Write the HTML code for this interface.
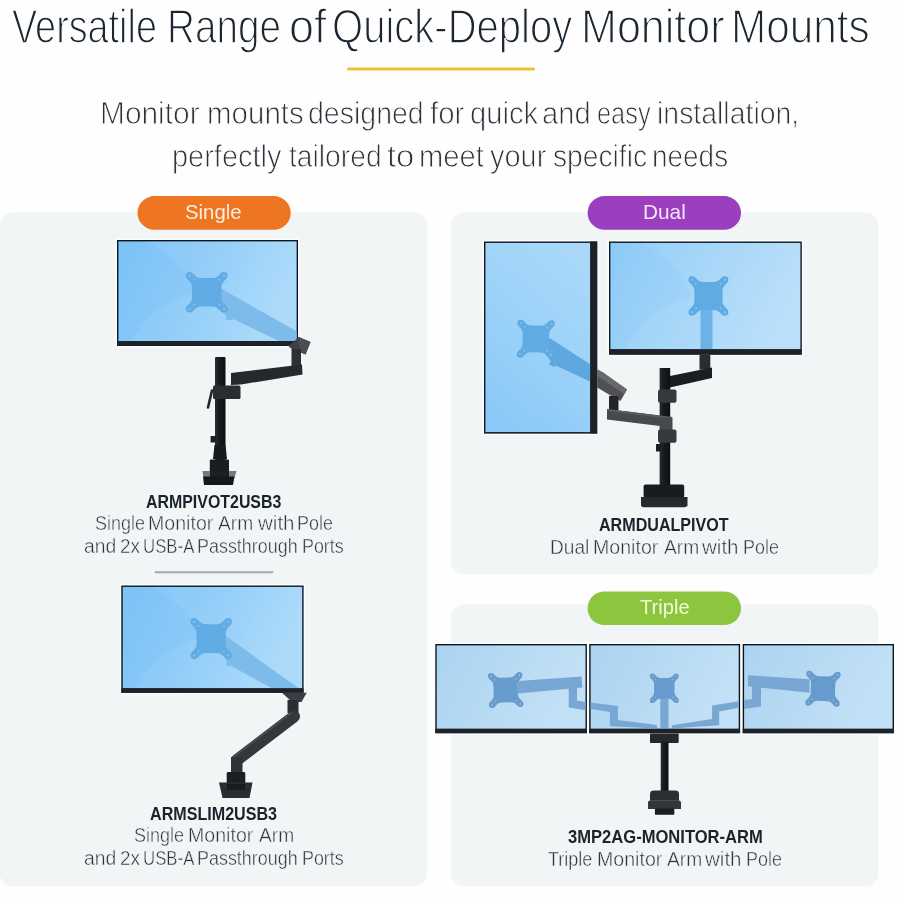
<!DOCTYPE html>
<html lang="en">
<head>
<meta charset="utf-8">
<title>Versatile Range of Quick-Deploy Monitor Mounts</title>
<style>
html,body{margin:0;padding:0;}
body{width:900px;height:900px;position:relative;overflow:hidden;background:#fefefe;font-family:"Liberation Sans",sans-serif;color:#1d2a36;}
.t{will-change:transform;position:absolute;left:0;width:900px;height:1em;white-space:nowrap;line-height:1;margin:0;font-weight:normal;display:block;}
.w{position:absolute;top:0;left:0;transform-origin:0 0;white-space:nowrap;}
.title{color:#1c2630;}
.sub{color:#2a323a;}
.name{font-weight:bold;color:#1a232c;}
.desc{color:#2c343c;}
.pl{color:#fff;}
#gfx{position:absolute;left:0;top:0;}
</style>
</head>
<body>
<svg id="gfx" width="900" height="900" viewBox="0 0 900 900">
<defs>
<linearGradient id="gS" x1="0" y1="0" x2="1" y2="0.25"><stop offset="0" stop-color="#7bc2f7"/><stop offset="0.5" stop-color="#8bcaf8"/><stop offset="1" stop-color="#a6d8fa"/></linearGradient>
<linearGradient id="gD1" x1="0.2" y1="1" x2="0.7" y2="0"><stop offset="0" stop-color="#8ac9f7"/><stop offset="0.55" stop-color="#9dd2f8"/><stop offset="1" stop-color="#a9d8f9"/></linearGradient>
<linearGradient id="gD2" x1="0" y1="0" x2="1" y2="0.3"><stop offset="0" stop-color="#8dcaf7"/><stop offset="0.5" stop-color="#a0d3f8"/><stop offset="1" stop-color="#b4ddfa"/></linearGradient>
<linearGradient id="gT" x1="0" y1="0" x2="1" y2="0.3"><stop offset="0" stop-color="#abd3f1"/><stop offset="0.5" stop-color="#b7daf3"/><stop offset="1" stop-color="#c3e1f6"/></linearGradient>
<linearGradient id="gPole" x1="0" y1="0" x2="1" y2="0"><stop offset="0" stop-color="#2a2c30"/><stop offset="0.35" stop-color="#1a1b1e"/><stop offset="1" stop-color="#0e0f11"/></linearGradient>
</defs>
<g id="panels" fill="#f1f5f6">
<rect x="-0.3" y="212.6" width="427.2" height="673.6" rx="13"/>
<rect x="451" y="212.6" width="427.3" height="361.6" rx="13"/>
<rect x="451" y="604.6" width="427.3" height="281.6" rx="13"/>
</g>
<rect x="347" y="67.4" width="188" height="3.1" rx="1.5" fill="#f1c03a"/>
<rect x="154.6" y="571.2" width="118.8" height="2" rx="1" fill="#9eabb0"/>
<rect x="137.5" y="196.1" width="153.2" height="33.7" rx="16.85" fill="#ee7623"/>
<rect x="587.6" y="196.1" width="153.4" height="33.7" rx="16.85" fill="#9b3fbf"/>
<rect x="587.6" y="591.4" width="153.4" height="33.7" rx="16.85" fill="#8cc63f"/>
<g id="m1">
<rect x="115.5" y="238.5" width="184.0" height="109.0" fill="#ffffff" opacity="0.8"/>
<rect x="117.0" y="240.0" width="181.0" height="106.0" fill="#0b1620"/>
<clipPath id="m1c"><rect x="118.4" y="241.4" width="178.2" height="99.6"/></clipPath>
<rect x="118.4" y="241.4" width="178.2" height="99.6" fill="url(#gS)"/>
<g clip-path="url(#m1c)">
<path d="M146.0 240 Q193.0 268.3 193.0 292.5 Q153.2 302.6 131.5 341 L298 341 L298 240 Z" fill="#ffffff" opacity="0.07"/>
<polygon points="218,288 222,289 300,333.3 300,342 281,342 228,316.5 222,312" fill="#7dbbea"/><rect x="226" y="314" width="6.5" height="6" fill="#7dbbea"/><g transform="translate(206.7 292.3) rotate(0) scale(0.955 0.923)"><path d="M-14.5,-20.5 L-11.5,-17.5 Q-9.5,-15.5 -6,-15.5 L6,-15.5 Q9.5,-15.5 11.5,-17.5 L14.5,-20.5 Q16,-22 18.2,-22 Q22,-22 22,-18.2 Q22,-16 20.5,-14.5 L17.5,-11.5 Q15.5,-9.5 15.5,-6 L15.5,6 Q15.5,9.5 17.5,11.5 L20.5,14.5 Q22,16 22,18.2 Q22,22 18.2,22 Q16,22 14.5,20.5 L11.5,17.5 Q9.5,15.5 6,15.5 L-6,15.5 Q-9.5,15.5 -11.5,17.5 L-14.5,20.5 Q-16,22 -18.2,22 Q-22,22 -22,18.2 Q-22,16 -20.5,14.5 L-17.5,11.5 Q-15.5,9.5 -15.5,6 L-15.5,-6 Q-15.5,-9.5 -17.5,-11.5 L-20.5,-14.5 Q-22,-16 -22,-18.2 Q-22,-22 -18.2,-22 Q-16,-22 -14.5,-20.5 Z" fill="#62ace5"/><g fill="#86c2f0"><circle cx="-18" cy="-18" r="1.2"/><circle cx="18" cy="-18" r="1.2"/><circle cx="-18" cy="18" r="1.2"/><circle cx="18" cy="18" r="1.2"/><circle cx="-13.5" cy="-13.5" r="1.1"/><circle cx="13.5" cy="-13.5" r="1.1"/><circle cx="-13.5" cy="13.5" r="1.1"/><circle cx="13.5" cy="13.5" r="1.1"/></g></g>
</g>
<rect x="117.0" y="341.0" width="181.0" height="5.0" fill="#1d2228"/>
</g>
<g id="a1">
<polygon points="288.5,346 299,337 310.5,342 305.5,354.5 291,348.5" fill="#3d4045"/>
<polygon points="298,337 310.5,342 305.5,354.5 300,352" fill="#4a4d52"/>
<rect x="291.5" y="349" width="9.5" height="17" fill="#2d2f33"/>
<polygon points="231,373 302,364.5 302.5,374.5 241,384.5 231,385" fill="#26282c"/>
<rect x="215" y="357" width="10.5" height="118" rx="1" fill="url(#gPole)"/>
<rect x="213" y="385.5" width="27.5" height="13.5" rx="1.5" fill="#2b2d31"/>
<path d="M212 390.5 L208 407.5" stroke="#25272b" stroke-width="2.6" stroke-linecap="round"/>
<rect x="210.6" y="436" width="5" height="6.5" fill="#1d1e21"/>
<polygon points="214.5,445 225.5,445 227,459 213,459" fill="#18191c"/>
<rect x="209.8" y="459.5" width="19.2" height="13" rx="1" fill="#1b1c1f"/>
<polygon points="202.5,471 236.5,471 234.5,478 203.5,478" fill="#77787a"/>
<polygon points="210,471 229,471 229,478 210,478" fill="#1e1f22"/>
<polygon points="203,476.5 234.5,476.5 233,485 204,485" fill="#17181b"/>
</g>
<g id="m2">
<rect x="119.8" y="584.0" width="185.3" height="110.3" fill="#ffffff" opacity="0.8"/>
<rect x="121.3" y="585.5" width="182.3" height="107.3" fill="#0b1620"/>
<clipPath id="m2c"><rect x="122.7" y="586.9" width="179.5" height="101.4"/></clipPath>
<rect x="122.7" y="586.9" width="179.5" height="101.4" fill="url(#gS)"/>
<g clip-path="url(#m2c)">
<path d="M150.5 585.5 Q197.9 614.3 197.9 639.0 Q157.8 649.2 135.9 688.3 L303.6 688.3 L303.6 585.5 Z" fill="#ffffff" opacity="0.07"/>
<polygon points="222,634 226.7,636.5 301,690 275,690 232,666.5 226,660" fill="#7dbbea"/><rect x="226.7" y="660" width="7" height="6" fill="#7dbbea"/><g transform="translate(211.2 638.6) rotate(0) scale(0.943 0.932)"><path d="M-14.5,-20.5 L-11.5,-17.5 Q-9.5,-15.5 -6,-15.5 L6,-15.5 Q9.5,-15.5 11.5,-17.5 L14.5,-20.5 Q16,-22 18.2,-22 Q22,-22 22,-18.2 Q22,-16 20.5,-14.5 L17.5,-11.5 Q15.5,-9.5 15.5,-6 L15.5,6 Q15.5,9.5 17.5,11.5 L20.5,14.5 Q22,16 22,18.2 Q22,22 18.2,22 Q16,22 14.5,20.5 L11.5,17.5 Q9.5,15.5 6,15.5 L-6,15.5 Q-9.5,15.5 -11.5,17.5 L-14.5,20.5 Q-16,22 -18.2,22 Q-22,22 -22,18.2 Q-22,16 -20.5,14.5 L-17.5,11.5 Q-15.5,9.5 -15.5,6 L-15.5,-6 Q-15.5,-9.5 -17.5,-11.5 L-20.5,-14.5 Q-22,-16 -22,-18.2 Q-22,-22 -18.2,-22 Q-16,-22 -14.5,-20.5 Z" fill="#62ace5"/><g fill="#86c2f0"><circle cx="-18" cy="-18" r="1.2"/><circle cx="18" cy="-18" r="1.2"/><circle cx="-18" cy="18" r="1.2"/><circle cx="18" cy="18" r="1.2"/><circle cx="-13.5" cy="-13.5" r="1.1"/><circle cx="13.5" cy="-13.5" r="1.1"/><circle cx="-13.5" cy="13.5" r="1.1"/><circle cx="13.5" cy="13.5" r="1.1"/></g></g>
</g>
<rect x="121.3" y="688.3" width="182.3" height="4.5" fill="#1d2228"/>
</g>
<g id="a2">
<polygon points="282,692.8 306.7,692.8 301.5,702 292,702" fill="#3a3d42"/>
<rect x="287.5" y="700" width="11" height="13" fill="#2c2e32"/>
<path d="M294 716.5 L237 760" stroke="#34373c" stroke-width="12" stroke-linecap="round"/>
<path d="M291 713 L234 756.5" stroke="#4a4d52" stroke-width="1.6" stroke-linecap="round"/>
<rect x="231" y="757" width="11.5" height="16" fill="#2f3236"/>
<rect x="226.7" y="772" width="18.6" height="13.5" rx="1.5" fill="#1d1e21"/>
<polygon points="219,782.5 252.5,782.5 249.5,798 222.5,798" fill="#2a2c30"/>
<polygon points="227,784 245,784 245,790 227,790" fill="#1a1b1e"/>
</g>
<g id="m3">
<rect x="482.5" y="240.0" width="116.2" height="194.9" fill="#ffffff" opacity="0.8"/>
<rect x="484.0" y="241.5" width="113.2" height="191.9" fill="#0b1620"/>
<clipPath id="m3c"><rect x="485.4" y="242.9" width="104.9" height="189.3"/></clipPath>
<rect x="485.4" y="242.9" width="104.9" height="189.3" fill="url(#gD1)"/>
<g clip-path="url(#m3c)">
<polygon points="547,337 551,339 592,365.5 592,382.5 553.5,364.5 547,356" fill="#5fa7df"/><rect x="550.5" y="359" width="6" height="7" fill="#5fa7df" transform="rotate(28 553 362)"/><g transform="translate(535.8 339.0) rotate(1) scale(0.852 0.864)"><path d="M-14.5,-20.5 L-11.5,-17.5 Q-9.5,-15.5 -6,-15.5 L6,-15.5 Q9.5,-15.5 11.5,-17.5 L14.5,-20.5 Q16,-22 18.2,-22 Q22,-22 22,-18.2 Q22,-16 20.5,-14.5 L17.5,-11.5 Q15.5,-9.5 15.5,-6 L15.5,6 Q15.5,9.5 17.5,11.5 L20.5,14.5 Q22,16 22,18.2 Q22,22 18.2,22 Q16,22 14.5,20.5 L11.5,17.5 Q9.5,15.5 6,15.5 L-6,15.5 Q-9.5,15.5 -11.5,17.5 L-14.5,20.5 Q-16,22 -18.2,22 Q-22,22 -22,18.2 Q-22,16 -20.5,14.5 L-17.5,11.5 Q-15.5,9.5 -15.5,6 L-15.5,-6 Q-15.5,-9.5 -17.5,-11.5 L-20.5,-14.5 Q-22,-16 -22,-18.2 Q-22,-22 -18.2,-22 Q-16,-22 -14.5,-20.5 Z" fill="#60abe4"/><g fill="#88c3f0"><circle cx="-18" cy="-18" r="1.2"/><circle cx="18" cy="-18" r="1.2"/><circle cx="-18" cy="18" r="1.2"/><circle cx="18" cy="18" r="1.2"/><circle cx="-13.5" cy="-13.5" r="1.1"/><circle cx="13.5" cy="-13.5" r="1.1"/><circle cx="-13.5" cy="13.5" r="1.1"/><circle cx="13.5" cy="13.5" r="1.1"/></g></g>
</g>
<rect x="484.0" y="432.2" width="113.2" height="1.2" fill="#1d2228"/>
<rect x="590.3" y="241.5" width="6.9" height="191.9" fill="#1d2228"/>
</g>
<g id="m4">
<rect x="607.5" y="240.0" width="195.8" height="116.1" fill="#ffffff" opacity="0.8"/>
<rect x="609.0" y="241.5" width="192.8" height="113.1" fill="#0b1620"/>
<clipPath id="m4c"><rect x="610.4" y="242.9" width="190.0" height="106.4"/></clipPath>
<rect x="610.4" y="242.9" width="190.0" height="106.4" fill="url(#gD2)"/>
<g clip-path="url(#m4c)">
<path d="M639.8 241.5 Q690.0 271.7 690.0 297.6 Q647.6 308.3 624.4 349.3 L801.8 349.3 L801.8 241.5 Z" fill="#ffffff" opacity="0.07"/>
<rect x="700.5" y="305" width="12" height="46" fill="#6db2e6"/><g transform="translate(708.4 296.0) rotate(0) scale(0.909 0.898)"><path d="M-14.5,-20.5 L-11.5,-17.5 Q-9.5,-15.5 -6,-15.5 L6,-15.5 Q9.5,-15.5 11.5,-17.5 L14.5,-20.5 Q16,-22 18.2,-22 Q22,-22 22,-18.2 Q22,-16 20.5,-14.5 L17.5,-11.5 Q15.5,-9.5 15.5,-6 L15.5,6 Q15.5,9.5 17.5,11.5 L20.5,14.5 Q22,16 22,18.2 Q22,22 18.2,22 Q16,22 14.5,20.5 L11.5,17.5 Q9.5,15.5 6,15.5 L-6,15.5 Q-9.5,15.5 -11.5,17.5 L-14.5,20.5 Q-16,22 -18.2,22 Q-22,22 -22,18.2 Q-22,16 -20.5,14.5 L-17.5,11.5 Q-15.5,9.5 -15.5,6 L-15.5,-6 Q-15.5,-9.5 -17.5,-11.5 L-20.5,-14.5 Q-22,-16 -22,-18.2 Q-22,-22 -18.2,-22 Q-16,-22 -14.5,-20.5 Z" fill="#60abe4"/><g fill="#88c3f0"><circle cx="-18" cy="-18" r="1.2"/><circle cx="18" cy="-18" r="1.2"/><circle cx="-18" cy="18" r="1.2"/><circle cx="18" cy="18" r="1.2"/><circle cx="-13.5" cy="-13.5" r="1.1"/><circle cx="13.5" cy="-13.5" r="1.1"/><circle cx="-13.5" cy="13.5" r="1.1"/><circle cx="13.5" cy="13.5" r="1.1"/></g></g>
</g>
<rect x="609.0" y="349.3" width="192.8" height="5.3" fill="#1d2228"/>
</g>
<g id="a3">
<polygon points="597.2,369.5 603,372.5 627,389.5 620.5,401 609,394.5 597.2,387.5" fill="#505154"/>
<polygon points="597.2,369.5 603,372.5 627,389.5 624.5,394 597.2,376" fill="#6a6a6d"/>
<rect x="609" y="396" width="9.5" height="14" fill="#232528"/>
<rect x="699.5" y="354.6" width="10.8" height="15" fill="#2a2c30"/>
<polygon points="670,376 712,367.5 712,378 670,387.5" fill="#1c1d20"/>
<rect x="659.6" y="368" width="10.6" height="117" fill="url(#gPole)"/>
<rect x="658" y="389.4" width="18.5" height="13.4" rx="2" fill="#38393c"/>
<polygon points="607,409 672,417 672,427.5 607,419.5" fill="#47494d"/>
<polygon points="607,409 672,417 672,419 607,411" fill="#5a5c60"/>
<rect x="660" y="417.5" width="12.5" height="13" fill="#47494d"/>
<rect x="658" y="429.4" width="18.5" height="13.4" rx="2" fill="#38393c"/>
<rect x="656" y="444" width="5" height="7.5" fill="#1d1e21"/>
<rect x="643.6" y="484.5" width="40.6" height="13.5" rx="2" fill="#1a1b1e"/>
<polygon points="641,497 687.5,497 687.5,506 685,507.3 643,507.3 641,506" fill="#26282b"/>
</g>
<g id="m5">
<rect x="433.8" y="642.5" width="154.6" height="92.2" fill="#ffffff" opacity="0.8"/>
<rect x="435.3" y="644.0" width="151.6" height="89.2" fill="#0b1620"/>
<clipPath id="m5c"><rect x="436.7" y="645.4" width="148.8" height="83.4"/></clipPath>
<rect x="436.7" y="645.4" width="148.8" height="83.4" fill="url(#gT)"/>
<g clip-path="url(#m5c)">
<polygon points="518,681 581.5,676.5 582.5,687.5 518,693.5" fill="#79a7d3"/><polygon points="568.7,686 577,686 577,700.5 590,702.5 590,711 568.7,707.5" fill="#79a7d3"/><g transform="translate(505.7 690.0) rotate(-2) scale(0.784 0.795)"><path d="M-14.5,-20.5 L-11.5,-17.5 Q-9.5,-15.5 -6,-15.5 L6,-15.5 Q9.5,-15.5 11.5,-17.5 L14.5,-20.5 Q16,-22 18.2,-22 Q22,-22 22,-18.2 Q22,-16 20.5,-14.5 L17.5,-11.5 Q15.5,-9.5 15.5,-6 L15.5,6 Q15.5,9.5 17.5,11.5 L20.5,14.5 Q22,16 22,18.2 Q22,22 18.2,22 Q16,22 14.5,20.5 L11.5,17.5 Q9.5,15.5 6,15.5 L-6,15.5 Q-9.5,15.5 -11.5,17.5 L-14.5,20.5 Q-16,22 -18.2,22 Q-22,22 -22,18.2 Q-22,16 -20.5,14.5 L-17.5,11.5 Q-15.5,9.5 -15.5,6 L-15.5,-6 Q-15.5,-9.5 -17.5,-11.5 L-20.5,-14.5 Q-22,-16 -22,-18.2 Q-22,-22 -18.2,-22 Q-16,-22 -14.5,-20.5 Z" fill="#679bcd"/><g fill="#90bbe0"><circle cx="-18" cy="-18" r="1.2"/><circle cx="18" cy="-18" r="1.2"/><circle cx="-18" cy="18" r="1.2"/><circle cx="18" cy="18" r="1.2"/><circle cx="-13.5" cy="-13.5" r="1.1"/><circle cx="13.5" cy="-13.5" r="1.1"/><circle cx="-13.5" cy="13.5" r="1.1"/><circle cx="13.5" cy="13.5" r="1.1"/></g></g>
</g>
<rect x="435.3" y="728.8" width="151.6" height="4.4" fill="#1d2228"/>
</g>
<g id="m6">
<rect x="587.7" y="642.5" width="153.9" height="92.2" fill="#ffffff" opacity="0.8"/>
<rect x="589.2" y="644.0" width="150.9" height="89.2" fill="#0b1620"/>
<clipPath id="m6c"><rect x="590.6" y="645.4" width="148.1" height="83.4"/></clipPath>
<rect x="590.6" y="645.4" width="148.1" height="83.4" fill="url(#gT)"/>
<g clip-path="url(#m6c)">
<polygon points="588,702.2 617.9,706.1 617.9,720 657,725 657,728.6 609.9,726.2 609.9,712 588,708.4" fill="#79a7d3"/><polygon points="742,700.8 712.1,705.4 712.1,719.1 671.8,725.3 671.8,728.6 719.2,725.3 719.2,711.5 742,707.2" fill="#79a7d3"/><rect x="660.3" y="698" width="8.2" height="32" fill="#79a7d3"/><g transform="translate(664.3 688.3) rotate(0) scale(0.659 0.670)"><path d="M-14.5,-20.5 L-11.5,-17.5 Q-9.5,-15.5 -6,-15.5 L6,-15.5 Q9.5,-15.5 11.5,-17.5 L14.5,-20.5 Q16,-22 18.2,-22 Q22,-22 22,-18.2 Q22,-16 20.5,-14.5 L17.5,-11.5 Q15.5,-9.5 15.5,-6 L15.5,6 Q15.5,9.5 17.5,11.5 L20.5,14.5 Q22,16 22,18.2 Q22,22 18.2,22 Q16,22 14.5,20.5 L11.5,17.5 Q9.5,15.5 6,15.5 L-6,15.5 Q-9.5,15.5 -11.5,17.5 L-14.5,20.5 Q-16,22 -18.2,22 Q-22,22 -22,18.2 Q-22,16 -20.5,14.5 L-17.5,11.5 Q-15.5,9.5 -15.5,6 L-15.5,-6 Q-15.5,-9.5 -17.5,-11.5 L-20.5,-14.5 Q-22,-16 -22,-18.2 Q-22,-22 -18.2,-22 Q-16,-22 -14.5,-20.5 Z" fill="#679bcd"/><g fill="#90bbe0"><circle cx="-18" cy="-18" r="1.2"/><circle cx="18" cy="-18" r="1.2"/><circle cx="-18" cy="18" r="1.2"/><circle cx="18" cy="18" r="1.2"/><circle cx="-13.5" cy="-13.5" r="1.1"/><circle cx="13.5" cy="-13.5" r="1.1"/><circle cx="-13.5" cy="13.5" r="1.1"/><circle cx="13.5" cy="13.5" r="1.1"/></g></g>
</g>
<rect x="589.2" y="728.8" width="150.9" height="4.4" fill="#1d2228"/>
</g>
<g id="m7">
<rect x="741.2" y="642.5" width="154.3" height="92.2" fill="#ffffff" opacity="0.8"/>
<rect x="742.7" y="644.0" width="151.3" height="89.2" fill="#0b1620"/>
<clipPath id="m7c"><rect x="744.1" y="645.4" width="148.5" height="83.4"/></clipPath>
<rect x="744.1" y="645.4" width="148.5" height="83.4" fill="url(#gT)"/>
<g clip-path="url(#m7c)">
<polygon points="748,675.3 809.5,679.3 809.5,692.8 748,686.2" fill="#79a7d3"/><polygon points="752,685 761,685 761,706.5 741,709.5 741,700.5 752,699" fill="#79a7d3"/><g transform="translate(823.0 688.7) rotate(2) scale(0.784 0.795)"><path d="M-14.5,-20.5 L-11.5,-17.5 Q-9.5,-15.5 -6,-15.5 L6,-15.5 Q9.5,-15.5 11.5,-17.5 L14.5,-20.5 Q16,-22 18.2,-22 Q22,-22 22,-18.2 Q22,-16 20.5,-14.5 L17.5,-11.5 Q15.5,-9.5 15.5,-6 L15.5,6 Q15.5,9.5 17.5,11.5 L20.5,14.5 Q22,16 22,18.2 Q22,22 18.2,22 Q16,22 14.5,20.5 L11.5,17.5 Q9.5,15.5 6,15.5 L-6,15.5 Q-9.5,15.5 -11.5,17.5 L-14.5,20.5 Q-16,22 -18.2,22 Q-22,22 -22,18.2 Q-22,16 -20.5,14.5 L-17.5,11.5 Q-15.5,9.5 -15.5,6 L-15.5,-6 Q-15.5,-9.5 -17.5,-11.5 L-20.5,-14.5 Q-22,-16 -22,-18.2 Q-22,-22 -18.2,-22 Q-16,-22 -14.5,-20.5 Z" fill="#679bcd"/><g fill="#90bbe0"><circle cx="-18" cy="-18" r="1.2"/><circle cx="18" cy="-18" r="1.2"/><circle cx="-18" cy="18" r="1.2"/><circle cx="18" cy="18" r="1.2"/><circle cx="-13.5" cy="-13.5" r="1.1"/><circle cx="13.5" cy="-13.5" r="1.1"/><circle cx="-13.5" cy="13.5" r="1.1"/><circle cx="13.5" cy="13.5" r="1.1"/></g></g>
</g>
<rect x="742.7" y="728.8" width="151.3" height="4.4" fill="#1d2228"/>
</g>
<g id="a4">
<rect x="650" y="733.5" width="28.7" height="9.5" rx="1" fill="#26282c"/>
<rect x="660.7" y="742" width="7.8" height="49.5" fill="url(#gPole)"/>
<path d="M650 800.5 L650 794 Q650 790.6 654 790.6 L675 790.6 Q679 790.6 679 794 L679 800.5 Z" fill="#2c2e32"/>
<path d="M648 808.9 L648 803 Q648 800.3 651 800.3 L678 800.3 Q681 800.3 681 803 L681 808.9 Z" fill="#33363a"/>
<rect x="654.9" y="808.5" width="19.4" height="6.2" rx="1" fill="#1c1d20"/>
</g>
</svg>
<h1 class="t title" id="t1" style="top:3.00px;font-size:47.38px;-webkit-text-stroke:1.40px #fefefe;"><span class="w" style="left:12.22px;transform:scaleX(0.7976)">Versatile</span> <span class="w" style="left:166.69px;transform:scaleX(0.8164)">Range</span> <span class="w" style="left:288.79px;transform:scaleX(0.9481)">of</span> <span class="w" style="left:332.12px;transform:scaleX(0.8450)">Quick-Deploy</span> <span class="w" style="left:580.83px;transform:scaleX(0.9093)">Monitor</span> <span class="w" style="left:730.50px;transform:scaleX(0.8923)">Mounts</span></h1>
<p class="t sub" id="s1" style="top:98.00px;font-size:31.54px;-webkit-text-stroke:0.90px #fefefe;"><span class="w" style="left:100.17px;transform:scaleX(0.9472)">Monitor</span> <span class="w" style="left:206.52px;transform:scaleX(0.9358)">mounts</span> <span class="w" style="left:308.32px;transform:scaleX(0.9039)">designed</span> <span class="w" style="left:430.05px;transform:scaleX(0.9305)">for</span> <span class="w" style="left:470.05px;transform:scaleX(0.9267)">quick</span> <span class="w" style="left:542.37px;transform:scaleX(0.9247)">and</span> <span class="w" style="left:596.69px;transform:scaleX(0.8041)">easy</span> <span class="w" style="left:657.37px;transform:scaleX(0.9017)">installation,</span></p>
<p class="t sub" id="s2" style="top:141.00px;font-size:31.54px;-webkit-text-stroke:0.90px #fefefe;"><span class="w" style="left:172.40px;transform:scaleX(0.9181)">perfectly</span> <span class="w" style="left:288.80px;transform:scaleX(0.8956)">tailored</span> <span class="w" style="left:386.88px;transform:scaleX(1.0371)">to</span> <span class="w" style="left:419.08px;transform:scaleX(0.9261)">meet</span> <span class="w" style="left:490.08px;transform:scaleX(0.9179)">your</span> <span class="w" style="left:553.02px;transform:scaleX(0.8949)">specific</span> <span class="w" style="left:651.53px;transform:scaleX(0.8859)">needs</span></p>
<span class="t pl" id="p1" style="top:202.00px;font-size:20.64px;color:#fdeedc;"><span class="w" style="left:184.72px;transform:scaleX(0.9881)">Single</span></span>
<span class="t pl" id="p2" style="top:202.00px;font-size:20.64px;color:#f8e3f9;"><span class="w" style="left:642.74px;transform:scaleX(1.0090)">Dual</span></span>
<span class="t pl" id="p3" style="top:597.00px;font-size:20.64px;color:#f1fbd6;"><span class="w" style="left:639.86px;transform:scaleX(0.9764)">Triple</span></span>
<span class="t name" id="n1" style="top:494.00px;font-size:17.86px;"><span class="w" style="left:146.16px;transform:scaleX(0.8914)">ARMPIVOT2USB3</span></span>
<span class="t desc" id="d1a" style="top:514.00px;font-size:19.90px;-webkit-text-stroke:0.44px #f1f5f6;"><span class="w" style="left:94.61px;transform:scaleX(0.9067)">Single</span> <span class="w" style="left:148.29px;transform:scaleX(0.9848)">Monitor</span> <span class="w" style="left:218.12px;transform:scaleX(0.9650)">Arm</span> <span class="w" style="left:257.72px;transform:scaleX(1.0315)">with</span> <span class="w" style="left:297.21px;transform:scaleX(0.9011)">Pole</span></span>
<span class="t desc" id="d1b" style="top:537.00px;font-size:19.90px;-webkit-text-stroke:0.44px #f1f5f6;"><span class="w" style="left:84.01px;transform:scaleX(0.9712)">and</span> <span class="w" style="left:119.56px;transform:scaleX(0.9520)">2x</span> <span class="w" style="left:142.63px;transform:scaleX(0.8448)">USB-A</span> <span class="w" style="left:197.20px;transform:scaleX(0.9017)">Passthrough</span> <span class="w" style="left:301.70px;transform:scaleX(0.8986)">Ports</span></span>
<span class="t name" id="n2" style="top:806.00px;font-size:17.86px;"><span class="w" style="left:150.35px;transform:scaleX(0.9016)">ARMSLIM2USB3</span></span>
<span class="t desc" id="d2a" style="top:826.00px;font-size:19.90px;-webkit-text-stroke:0.44px #f1f5f6;"><span class="w" style="left:134.04px;transform:scaleX(0.9067)">Single</span> <span class="w" style="left:187.68px;transform:scaleX(0.9848)">Monitor</span> <span class="w" style="left:258.52px;transform:scaleX(0.9650)">Arm</span></span>
<span class="t desc" id="d2b" style="top:849.00px;font-size:19.90px;-webkit-text-stroke:0.44px #f1f5f6;"><span class="w" style="left:84.01px;transform:scaleX(0.9712)">and</span> <span class="w" style="left:119.56px;transform:scaleX(0.9520)">2x</span> <span class="w" style="left:142.63px;transform:scaleX(0.8448)">USB-A</span> <span class="w" style="left:197.20px;transform:scaleX(0.9017)">Passthrough</span> <span class="w" style="left:301.70px;transform:scaleX(0.8986)">Ports</span></span>
<span class="t name" id="n3" style="top:517.00px;font-size:17.86px;"><span class="w" style="left:599.23px;transform:scaleX(0.9010)">ARMDUALPIVOT</span></span>
<span class="t desc" id="d3" style="top:538.00px;font-size:19.90px;-webkit-text-stroke:0.44px #f1f5f6;"><span class="w" style="left:550.31px;transform:scaleX(0.9623)">Dual</span> <span class="w" style="left:592.68px;transform:scaleX(0.9848)">Monitor</span> <span class="w" style="left:663.52px;transform:scaleX(0.9650)">Arm</span> <span class="w" style="left:702.11px;transform:scaleX(1.0315)">with</span> <span class="w" style="left:742.60px;transform:scaleX(0.9011)">Pole</span></span>
<span class="t name" id="n4" style="top:829.00px;font-size:17.86px;"><span class="w" style="left:567.96px;transform:scaleX(0.9276)">3MP2AG-MONITOR-ARM</span></span>
<span class="t desc" id="d4" style="top:850.00px;font-size:19.90px;-webkit-text-stroke:0.44px #f1f5f6;"><span class="w" style="left:548.08px;transform:scaleX(0.9061)">Triple</span> <span class="w" style="left:596.89px;transform:scaleX(0.9848)">Monitor</span> <span class="w" style="left:666.73px;transform:scaleX(0.9650)">Arm</span> <span class="w" style="left:705.33px;transform:scaleX(1.0315)">with</span> <span class="w" style="left:745.82px;transform:scaleX(0.9011)">Pole</span></span>
</body>
</html>
